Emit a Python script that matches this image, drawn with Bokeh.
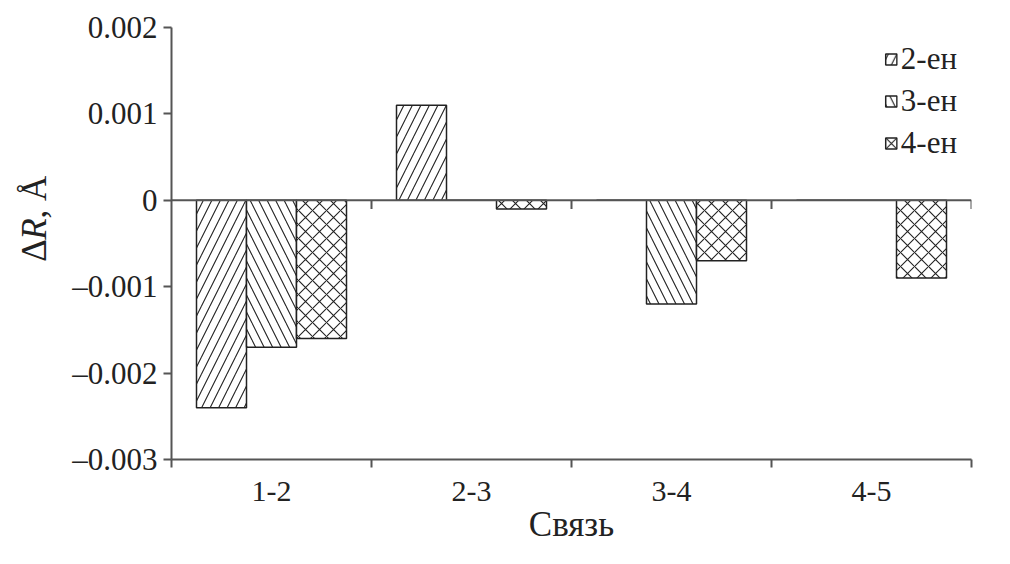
import math
from bokeh.plotting import figure
from bokeh.layouts import row
from bokeh.models import (Range1d, FixedTicker, CustomJSTickFormatter, Span, Legend,
                          LegendItem, ColumnDataSource)
from bokeh.core.properties import value
from bokeh.transform import dodge
from bokeh.embed import file_html
from bokeh.resources import INLINE

# ---- data ----
bonds = ["1-2", "2-3", "3-4", "4-5"]
series = ["2-ен", "3-ен", "4-ен"]
v_2en = [-0.0024, 0.0011, 0.0, 0.0]
v_3en = [-0.0017, 0.0, -0.0012, 0.0]
v_4en = [-0.0016, -0.0001, -0.0007, -0.0009]
y_ticks = [-0.003, -0.002, -0.001, 0.0, 0.001, 0.002]
y_title = ["Δ", "R", ", Å"]
y_title_style = ["normal", "italic", "normal"]

FONT = "Liberation Serif"
AX = "#555555"
TXT = "#222222"
H = 560
LW = 60

pos = [i + 0.5 for i in range(len(bonds))]
src = ColumnDataSource(dict(x=pos, s0=v_2en, s1=v_3en, s2=v_4en))

p = figure(width=1000 - LW, height=H, min_border_left=171 - LW, min_border_top=27,
           min_border_right=29, min_border_bottom=101,
           x_range=Range1d(0, len(bonds)), y_range=Range1d(y_ticks[0], y_ticks[-1]),
           output_backend="svg", toolbar_location=None)
p.outline_line_color = None
p.xgrid.visible = False
p.ygrid.visible = False

hatches = [("right_diagonal_line", 17), ("left_diagonal_line", 17), ("diagonal_cross", 14)]
offsets = [-0.25, 0.0, 0.25]
renderers = []
for col, (hp, hs), off in zip(["s0", "s1", "s2"], hatches, offsets):
    r = p.vbar(x=dodge("x", off, range=p.x_range), top=col, bottom=0, width=0.25,
               source=src, fill_color="white", line_color=TXT, line_width=1.5,
               hatch_pattern=hp, hatch_scale=hs, hatch_color=TXT, hatch_weight=1.1)
    renderers.append(r)

# zero line with tick marks at category boundaries
p.add_layout(Span(location=0, dimension="width", line_color=AX, line_width=2))
bounds = list(range(1, len(bonds) + 1))
p.segment(x0=bounds, x1=bounds, y0=[0] * len(bounds), y1=[-0.0001] * len(bounds),
          line_color=AX, line_width=2)

# x axis
xa = p.xaxis[0]
xa.ticker = FixedTicker(ticks=pos, minor_ticks=list(range(0, len(bonds) + 1)))
xa.major_label_overrides = {x: b for x, b in zip(pos, bonds)}
xa.major_tick_line_color = None
xa.major_tick_out = 0
xa.major_tick_in = 0
xa.minor_tick_out = 8
xa.minor_tick_in = 0
xa.minor_tick_line_color = AX
xa.minor_tick_line_width = 2
xa.axis_line_color = AX
xa.axis_line_width = 2
xa.major_label_standoff = 14
xa.major_label_text_font = FONT
xa.major_label_text_font_size = "30px"
xa.major_label_text_color = TXT
xa.axis_label = "Связь"
xa.axis_label_text_font = FONT
xa.axis_label_text_font_size = "35px"
xa.axis_label_text_font_style = "normal"
xa.axis_label_text_color = TXT
xa.axis_label_standoff = 1

# y axis
ya = p.yaxis[0]
ya.ticker = FixedTicker(ticks=y_ticks, minor_ticks=[])
ya.formatter = CustomJSTickFormatter(
    code="return tick === 0 ? '0' : tick.toFixed(3).replace('-', '\\u2013');")
ya.major_tick_out = 8
ya.major_tick_in = 0
ya.major_tick_line_color = AX
ya.major_tick_line_width = 2
ya.axis_line_color = AX
ya.axis_line_width = 2
ya.major_label_standoff = 6
ya.major_label_text_font = FONT
ya.major_label_text_font_size = "31px"
ya.major_label_text_color = TXT

legend = Legend(items=[LegendItem(label=s, renderers=[r]) for s, r in zip(series, renderers)],
                location="top_right", margin=14, padding=14, spacing=6,
                glyph_width=14, glyph_height=14, label_standoff=3,
                label_text_font=FONT, label_text_font_size="31px",
                label_text_color=TXT,
                border_line_color=None, background_fill_alpha=0)
p.add_layout(legend)

# narrow panel holding the rotated y-axis title "ΔR, Å" (italic R); ranges in pixels
t = figure(frame_width=LW, frame_height=H, x_range=Range1d(0, LW), y_range=Range1d(0, H),
           min_border=0, min_border_left=0, min_border_right=0, min_border_top=0,
           min_border_bottom=0, x_axis_location=None, y_axis_location=None,
           output_backend="svg", toolbar_location=None)
t.grid.visible = False
t.outline_line_color = None
centers = [223, 201.6, 169.5]   # vertical centres of the pieces, px from top
for txt, style, cy in zip(y_title, y_title_style, centers):
    t.text(x=[34], y=[H - cy], text=[txt], angle=math.pi / 2, text_font=value(FONT),
           text_font_size="35px", text_font_style=style, text_color=TXT,
           text_align="center", text_baseline="middle")

layout = row(t, p, spacing=0)
open("out.html", "w").write(file_html(layout, INLINE))
